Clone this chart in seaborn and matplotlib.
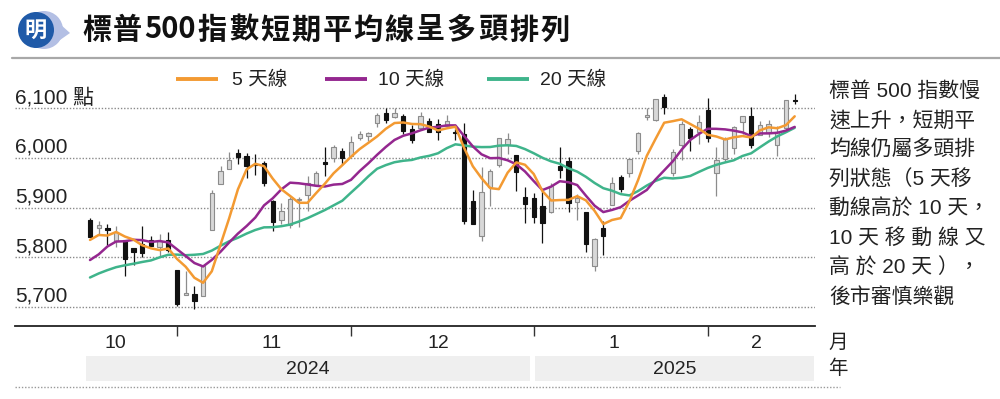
import matplotlib
matplotlib.use("Agg")
import matplotlib.pyplot as plt
from matplotlib.lines import Line2D
from matplotlib.patches import Rectangle, Ellipse, Polygon
from matplotlib.transforms import blended_transform_factory
import seaborn as sns
import pandas as pd

# S&P 500 daily candles, 2024-10-17 .. 2025-02-14
opens = [5875.6, 5859.4, 5857.8, 5832.7, 5834.5, 5817.8, 5826.8, 5833.9, 5819.7, 5833.9,
         5775.3, 5723.2, 5725.2, 5722.4, 5855.2, 5947.2, 5976.8, 6008.9, 6003.6, 5985.8,
         5989.6, 5912.8, 5874.2, 5864.0, 5914.9, 5924.6, 5944.4, 5992.3, 6000.0, 6014.1,
         6004.0, 6040.1, 6043.0, 6069.4, 6089.8, 6081.4, 6083.0, 6057.6, 6060.2, 6074.3,
         6068.2, 6063.8, 6052.6, 6047.7, 5912.7, 5842.0, 5940.3, 5984.7, 6025.0, 6006.2,
         5920.7, 5919.7, 5903.3, 5891.1, 5982.8, 5993.3, 5910.7, 5890.7, 5782.3, 5859.1,
         5905.2, 5961.9, 5969.2, 6014.1, 6081.4, 6076.3, 6121.4, 5969.0, 6026.0, 6057.7,
         6050.8, 6096.8, 5969.7, 5998.1, 6020.5, 6072.2, 6083.1, 6046.4, 6049.3, 6025.1,
         6060.6, 6115.5]
highs = [5878.5, 5872.2, 5866.9, 5863.0, 5834.9, 5817.8, 5862.8, 5842.9, 5847.2, 5850.9,
         5775.3, 5772.5, 5741.4, 5783.4, 5936.1, 5983.8, 6012.5, 6017.3, 6009.9, 6008.2,
         5993.9, 5915.0, 5908.1, 5920.5, 5920.7, 5963.4, 5972.9, 6020.8, 6025.4, 6020.2,
         6044.2, 6053.6, 6052.7, 6089.8, 6100.0, 6100.0, 6088.5, 6065.4, 6092.6, 6079.7,
         6078.6, 6085.2, 6057.7, 6070.7, 5935.5, 5982.1, 5978.3, 6040.1, 6049.8, 6006.2,
         5940.8, 5929.7, 5935.1, 5949.3, 6021.0, 6000.7, 5927.9, 5890.7, 5838.8, 5871.9,
         5960.6, 5964.7, 5999.3, 6051.5, 6100.8, 6118.7, 6128.2, 6017.2, 6074.5, 6062.8,
         6086.6, 6120.9, 6022.1, 6042.5, 6062.9, 6084.0, 6101.3, 6073.4, 6076.3, 6063.0,
         6116.9, 6127.5]
lows = [5840.2, 5846.1, 5824.8, 5821.2, 5762.4, 5784.9, 5800.0, 5823.1, 5802.2, 5811.3,
        5702.9, 5723.2, 5696.5, 5722.1, 5855.2, 5947.2, 5976.8, 5986.7, 5960.1, 5965.9,
        5944.0, 5853.0, 5866.0, 5858.8, 5860.8, 5892.2, 5944.4, 5963.9, 5992.3, 5984.9,
        6004.0, 6035.3, 6033.4, 6061.1, 6070.7, 6080.0, 6048.6, 6029.9, 6060.2, 6051.3,
        6035.8, 6059.1, 6035.2, 5867.8, 5866.1, 5832.3, 5902.6, 5981.4, 6007.4, 5933.0,
        5869.2, 5868.9, 5829.5, 5888.7, 5960.0, 5890.7, 5874.8, 5809.9, 5773.3, 5805.5,
        5905.2, 5930.8, 5962.2, 6006.9, 6076.1, 6074.7, 6088.7, 5962.9, 5994.6, 6013.0,
        6027.5, 6030.9, 5923.9, 5990.9, 6007.1, 6046.8, 6020.0, 6044.8, 6042.3, 6003.0,
        6051.0, 6107.6]
closes = [5841.5, 5864.7, 5853.9, 5851.2, 5797.4, 5809.9, 5808.1, 5823.5, 5832.9, 5813.7,
          5705.5, 5728.8, 5712.7, 5782.8, 5929.0, 5973.1, 5995.5, 6001.4, 5984.0, 5985.4,
          5949.2, 5870.6, 5893.6, 5917.0, 5917.1, 5948.7, 5969.3, 5987.4, 6021.6, 5998.7,
          6032.4, 6047.2, 6049.9, 6086.5, 6075.1, 6090.3, 6052.9, 6034.9, 6084.2, 6051.3,
          6051.1, 6074.1, 6050.6, 5872.2, 5867.1, 5930.9, 5974.1, 6040.0, 6037.6, 5970.8,
          5906.9, 5881.6, 5868.6, 5942.5, 5975.4, 5909.0, 5918.3, 5827.0, 5836.2, 5842.9,
          5949.9, 5937.3, 5996.7, 6049.2, 6086.4, 6118.7, 6101.2, 6012.3, 6067.7, 6039.3,
          6071.2, 6040.5, 5994.6, 6037.9, 6061.5, 6083.6, 6026.0, 6066.4, 6068.5, 6052.0,
          6115.1, 6114.6]

# moving averages as drawn
ma5 = [5834.8, 5844.8, 5843.6, 5850.8, 5841.7, 5835.4, 5824.1, 5818.0, 5814.4, 5817.6,
       5796.7, 5780.9, 5758.7, 5748.7, 5771.8, 5825.3, 5878.6, 5936.4, 5976.6, 5987.9,
       5983.1, 5958.1, 5936.6, 5923.2, 5909.5, 5909.4, 5929.1, 5947.9, 5968.8, 5985.1,
       6001.9, 6017.5, 6030.0, 6042.9, 6058.2, 6069.8, 6070.9, 6067.9, 6067.5, 6062.7,
       6054.9, 6059.1, 6062.3, 6019.9, 5983.0, 5959.0, 5939.0, 5936.9, 5969.9, 5990.7,
       5985.9, 5967.4, 5933.1, 5914.1, 5915.0, 5915.4, 5922.8, 5914.4, 5893.2, 5866.7,
       5874.9, 5878.7, 5912.6, 5955.2, 6003.9, 6037.7, 6070.4, 6073.6, 6077.3, 6067.8,
       6058.3, 6046.2, 6042.7, 6036.7, 6041.1, 6043.6, 6040.7, 6055.1, 6061.2, 6059.3,
       6065.6, 6083.3]
ma10 = [5794.4, 5805.8, 5821.6, 5831.6, 5832.2, 5835.1, 5834.4, 5830.8, 5832.6, 5829.7,
        5816.1, 5802.5, 5788.4, 5781.5, 5794.7, 5811.0, 5829.8, 5847.5, 5862.7, 5879.8,
        5904.2, 5918.4, 5936.5, 5949.9, 5948.7, 5946.3, 5943.6, 5942.2, 5946.0, 5947.3,
        5955.6, 5973.3, 5988.9, 6005.9, 6021.7, 6035.8, 6044.2, 6049.0, 6055.2, 6060.5,
        6062.3, 6065.0, 6065.1, 6043.7, 6022.9, 6006.9, 5999.1, 5999.6, 5994.9, 5986.9,
        5972.4, 5953.2, 5935.0, 5942.0, 5952.8, 5950.7, 5945.1, 5923.8, 5903.6, 5890.8,
        5895.1, 5900.7, 5913.5, 5924.2, 5935.3, 5956.3, 5974.6, 5993.1, 6016.2, 6035.9,
        6048.0, 6058.3, 6058.1, 6057.0, 6054.5, 6051.0, 6043.5, 6048.9, 6049.0, 6050.2,
        6054.6, 6062.0]
ma20 = [5759.3, 5767.4, 5774.1, 5780.0, 5783.8, 5787.0, 5790.5, 5793.6, 5799.8, 5805.0,
        5805.3, 5804.1, 5805.0, 5806.6, 5813.4, 5823.1, 5832.1, 5839.2, 5847.6, 5854.8,
        5860.1, 5860.4, 5862.4, 5865.7, 5871.7, 5878.6, 5886.7, 5894.9, 5904.3, 5913.6,
        5929.9, 5945.8, 5962.7, 5977.9, 5985.2, 5991.0, 5993.9, 5995.6, 6000.6, 6003.9,
        6009.0, 6019.2, 6027.0, 6024.8, 6022.3, 6021.4, 6021.6, 6024.3, 6025.1, 6023.7,
        6017.4, 6009.1, 6000.0, 5992.8, 5987.9, 5978.8, 5972.1, 5961.7, 5949.3, 5938.8,
        5933.8, 5926.9, 5924.3, 5933.1, 5944.1, 5953.5, 5959.8, 5958.4, 5959.9, 5963.4,
        5971.6, 5979.5, 5985.8, 5990.6, 5994.9, 6003.6, 6009.0, 6021.0, 6032.6, 6043.0,
        6051.3, 6060.2]

ma_names = ['5 天線', '10 天線', '20 天線']
ma_colors = ['#F39A32', '#94278F', '#3FB48B']

y_values = [6100, 6000, 5900, 5800, 5700]
y_labels = ['6,100 點', '6,000', '5,900', '5,800', '5,700']

month_end_idx = [10, 30, 51, 71]          # last trading day of Oct, Nov, Dec, Jan
month_labels = ['10', '11', '12', '1', '2']
year_labels = ['2024', '2025']

title = ['標', '普', '500', '指', '數', '短', '期', '平', '均', '線', '呈', '多', '頭', '排', '列']
note_lines = ['標普 500 指數慢', '速上升，短期平', '均線仍屬多頭排', '列狀態（5 天移',
              '動線高於 10 天，', '10 天 移 動 線 又', '高 於 20 天 ），', '後市審慎樂觀']

# ---------------------------------------------------------------------------
sns.set_theme(style="white")
plt.rcParams['font.family'] = ['Liberation Sans', 'Noto Sans CJK TC', 'DejaVu Sans']

W, H = 1000, 399
fig = plt.figure(figsize=(W / 100, H / 100), dpi=100)
fig.patch.set_facecolor('white')


def fx(x):
    return x / W


def fy(y):
    return 1 - y / H


# plot area in reference pixels
X0, X1, YTOP, YBOT = 15, 815, 88, 326
FIRST_PX, STEP_PX = 90, 8.7
Y6100, Y5700 = 108, 307
per_px = 400 / (Y5700 - Y6100)

ax = fig.add_axes([fx(X0), fy(YBOT), (X1 - X0) / W, (YBOT - YTOP) / H])
ax.set_xlim((X0 - FIRST_PX) / STEP_PX, (X1 - FIRST_PX) / STEP_PX)
ax.set_ylim(5700 - (YBOT - Y5700) * per_px, 6100 + (Y6100 - YTOP) * per_px)
ax.set_facecolor('none')

for v in y_values:
    ax.axhline(v, color='#8a8a8a', lw=1.0, ls=(0, (1, 1.3)), zorder=1)

# candles
df = pd.DataFrame({'open': opens, 'high': highs, 'low': lows, 'close': closes})
df['idx'] = range(len(df))
df['up'] = df['close'] >= df['open']
up = df[df['up']]
dn = df[~df['up']]
ax.vlines(up['idx'], up['low'], up['high'], color='#8c8c8c', lw=0.9, zorder=2)
ax.vlines(dn['idx'], dn['low'], dn['high'], color='#111111', lw=0.9, zorder=2)
for part, fill, edge in [(up, '#d8d8d8', '#8c8c8c'), (dn, '#111111', '#111111')]:
    height = (part['close'] - part['open']).abs().clip(lower=1.5)
    bottom = part[['open', 'close']].min(axis=1)
    ax.bar(part['idx'], height, bottom=bottom, width=0.5, color=fill,
           edgecolor=edge, linewidth=0.8, zorder=3)

# moving averages
ma = pd.DataFrame({'idx': range(len(ma5)), ma_names[0]: ma5, ma_names[1]: ma10, ma_names[2]: ma20})
ma_long = ma.melt(id_vars='idx', var_name='line', value_name='value')
sns.lineplot(data=ma_long, x='idx', y='value', hue='line', hue_order=ma_names[::-1],
             palette=dict(zip(ma_names, ma_colors)), lw=1.8, legend=False, ax=ax, zorder=4)

for s in ['top', 'left', 'right']:
    ax.spines[s].set_visible(False)
ax.spines['bottom'].set_color('#222222')
ax.spines['bottom'].set_linewidth(1.3)
ax.set_xticks(month_end_idx)
ax.set_yticks([])
ax.tick_params(axis='x', bottom=True, direction='out', length=7, width=1,
               color='#333333', labelbottom=False)
ax.set_xlabel('')
ax.set_ylabel('')

trans = blended_transform_factory(ax.transAxes, ax.transData)
for v, lab in zip(y_values, y_labels):
    ax.text(0, v + 5 * per_px, lab, transform=trans, ha='left', va='baseline',
            fontsize=15, color='#222222', clip_on=False)

# legend
leg_x = [(176, 218, 232), (325, 367, 378), (487, 529, 540)]
for (a, b, t), name, col in zip(leg_x, ma_names, ma_colors):
    fig.add_artist(Line2D([fx(a), fx(b)], [fy(79), fy(79)], color=col, lw=2.8,
                          solid_capstyle='butt'))
    fig.text(fx(t), fy(80), name, fontsize=14, va='center', ha='left', color='#222222')

# side note
for i, line in enumerate(note_lines):
    fig.text(fx(829), fy(91 + i * 29.4), line, fontsize=15, va='center', ha='left',
             color='#222222')

# month / year rows
narrow = ['Liberation Sans Narrow', 'Liberation Sans', 'Noto Sans CJK TC']
for px, lab in zip([115, 272, 438, 614, 756], month_labels):
    fig.text(fx(px), fy(343), lab, fontsize=14, ha='center', va='center',
             family=narrow, color='#222222')
fig.text(fx(838), fy(343), '月', fontsize=14, ha='center', va='center', color='#222222')
for (a, b), lab in zip([(86, 530), (535, 814)], year_labels):
    fig.add_artist(Rectangle((fx(a), fy(381)), (b - a) / W, 25 / H,
                             transform=fig.transFigure, color='#efefef', lw=0, zorder=0))
    fig.text(fx((a + b) / 2), fy(369), lab, fontsize=14, ha='center',
             va='center', family=narrow, color='#222222')
fig.text(fx(838), fy(369), '年', fontsize=14, ha='center', va='center', color='#222222')
fig.add_artist(Line2D([fx(15), fx(840)], [fy(387), fy(387)], color='#999999', lw=1.0,
                      ls=(0, (1, 1.3))))

# header
fig.add_artist(Line2D([fx(12), fx(1000)], [fy(57.5), fy(57.5)], color='#a8a8a8', lw=1.6))


def disc(cx, cy, r, color):
    fig.add_artist(Ellipse((fx(cx), fy(cy)), 2 * r / W, 2 * r / H,
                           transform=fig.transFigure, color=color, lw=0))


disc(44, 30, 19, '#b3bfe4')
fig.add_artist(Polygon([(fx(50), fy(15)), (fx(70), fy(33)), (fx(50), fy(47))],
                       closed=True, transform=fig.transFigure, color='#b3bfe4', lw=0))
disc(36, 30, 18, '#1f5aa8')
fig.text(fx(36), fy(30), '明', fontsize=16, fontweight='bold', color='white',
         ha='center', va='center', family=['Noto Sans CJK TC'])

renderer = fig.canvas.get_renderer()
x = 82
for tok in title:
    t = fig.text(fx(x), fy(29.5), tok, fontsize=21, fontweight='bold', ha='left',
                 va='center', color='#111111', family=['Noto Sans CJK TC'])
    x += t.get_window_extent(renderer).width + 2

fig.savefig('out.png', dpi=100)
